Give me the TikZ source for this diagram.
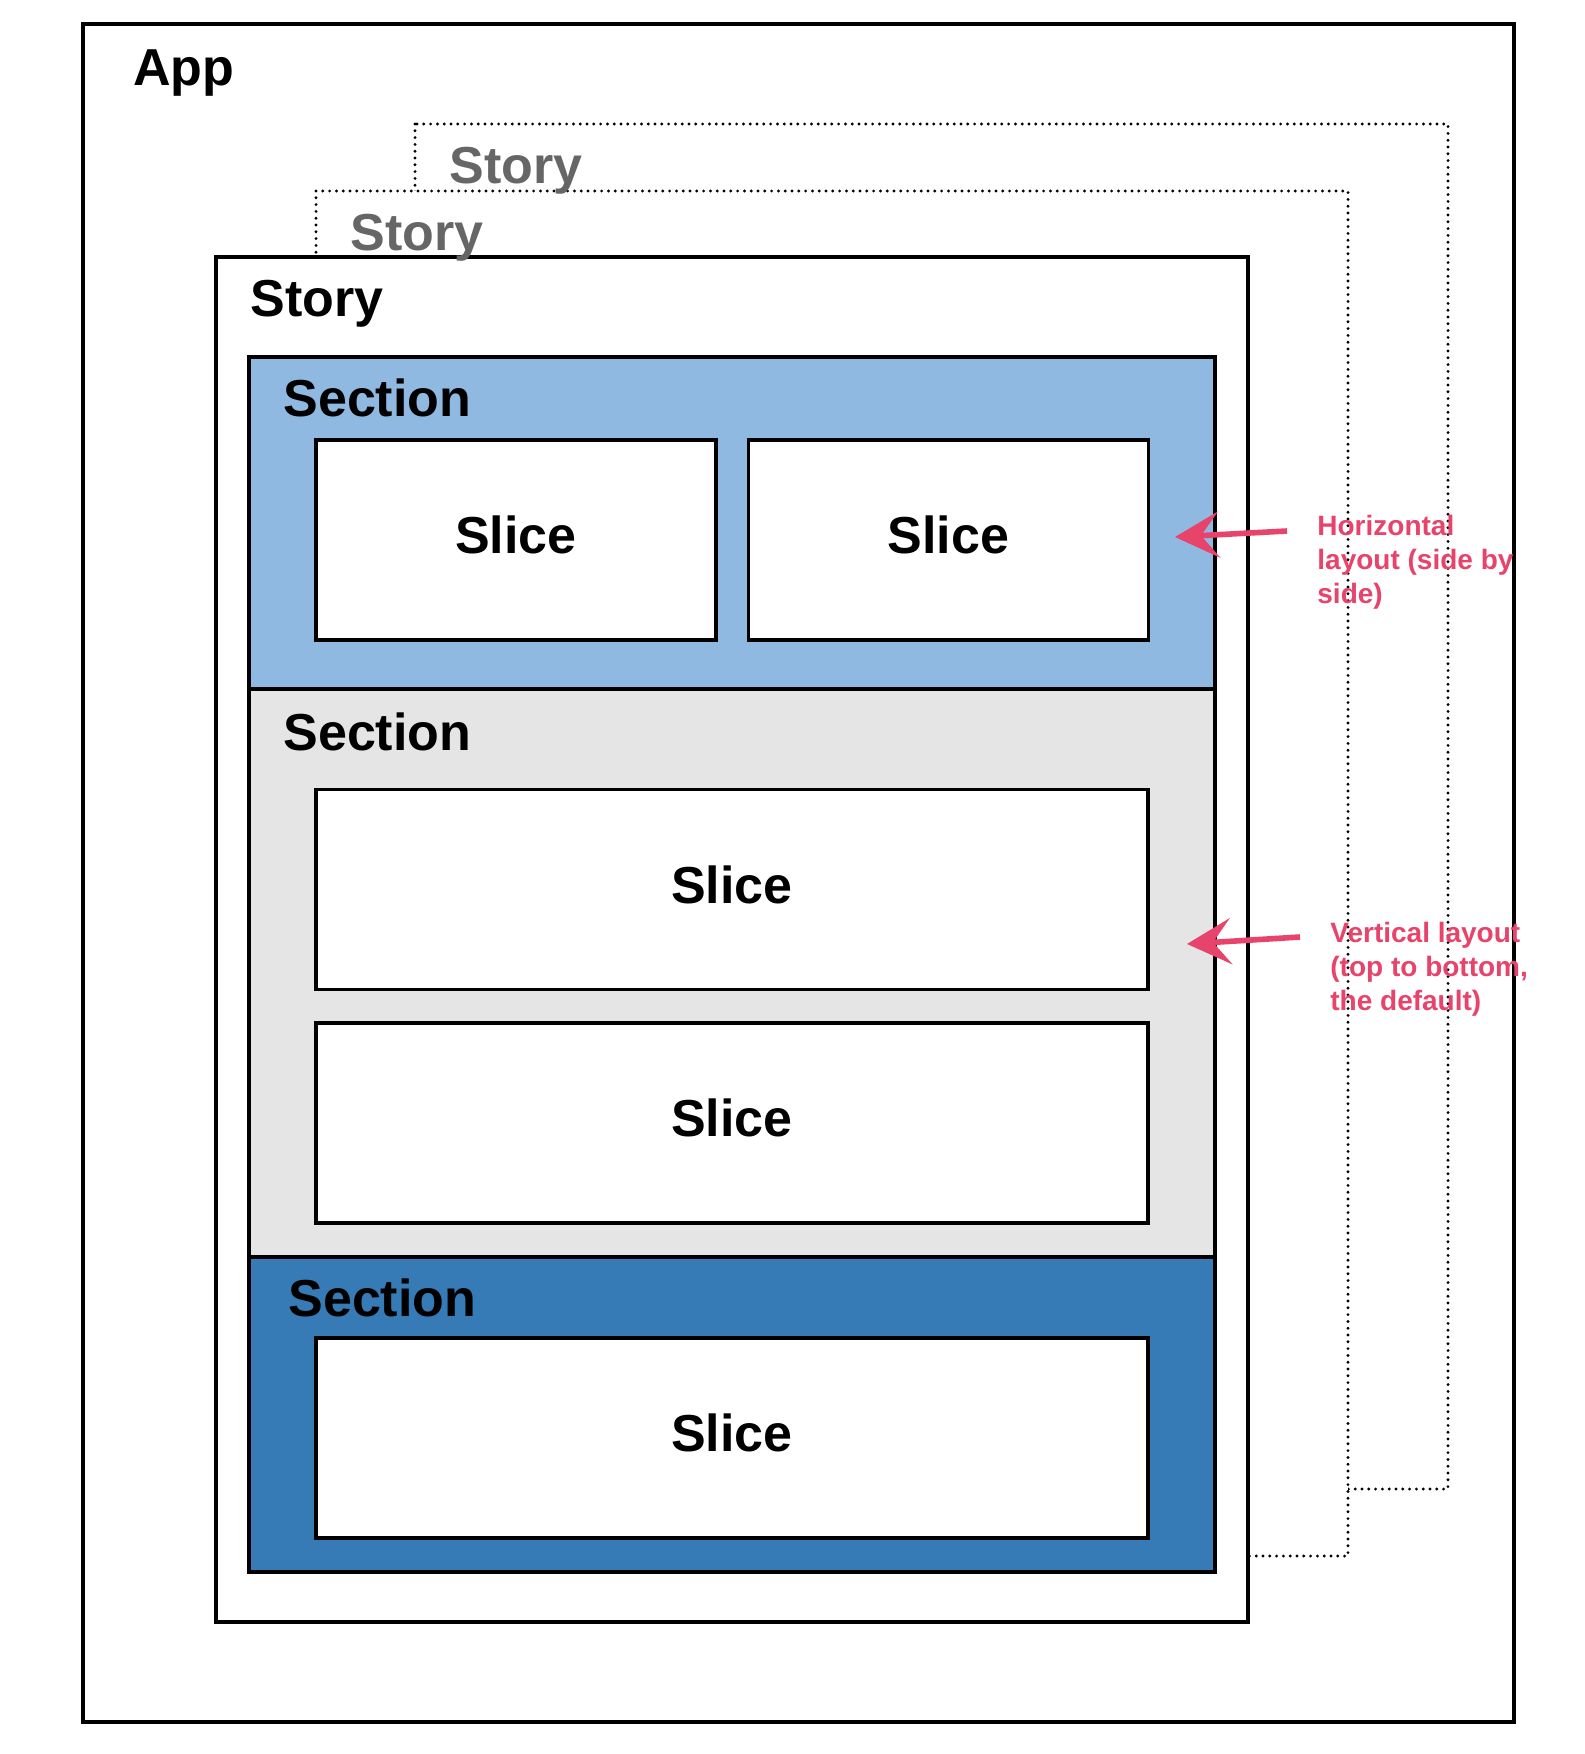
\documentclass[tikz,border=0pt]{standalone}
\usepackage{fontspec}
\setmainfont{Liberation Sans}
\usetikzlibrary{arrows.meta}

\definecolor{lightsec}{HTML}{8FB9E0}
\definecolor{greysec}{HTML}{E5E5E5}
\definecolor{darksec}{HTML}{367AB6}
\definecolor{ghostgrey}{HTML}{666666}
\definecolor{notepink}{HTML}{E8436B}

\begin{document}
\begin{tikzpicture}[x=0.5pt, y=-0.5pt,
		frame/.style={draw, line width=1.7pt},
		ghost/.style={draw, line width=1.6pt, line cap=round, dash pattern=on 0pt off 3.4pt},
		title/.style={anchor=base west, inner sep=0pt, font=\fontsize{26}{31}\selectfont\bfseries},
		slicebox/.style={draw, fill=white, line width=1.7pt, inner sep=0pt, text depth=5pt, minimum width=#1, minimum height=100pt, font=\fontsize{26}{31}\selectfont\bfseries},
		slicebox/.default=416pt,
		note/.style={anchor=base west, inner sep=0pt, align=left, text=notepink, font=\fontsize{14}{17}\selectfont\bfseries},
		pointer/.style={-{Stealth[length=22pt, width=23pt, inset=9pt]}, line width=2.8pt, draw=notepink}]
		\useasboundingbox (0,0) rectangle (1584,1754);
		
		% App
		\draw[frame, fill=white] (83,24) rectangle (1514,1722);
		
		% Stories behind (dotted)
		\draw[ghost, fill=white] (415,124) rectangle (1448,1489);
		\draw[ghost, fill=white] (316,191) rectangle (1348,1556);
		% Front story
		\draw[frame, fill=white] (216,257) rectangle (1248,1622);
		
		% --- Sections ---
		\draw[frame, fill=lightsec] (249,357) rectangle (1215,689);
		\draw[frame, fill=greysec] (249,689) rectangle (1215,1257);
		\draw[frame, fill=darksec] (249,1257) rectangle (1215,1572);
		
		% --- Slices ---
		\node[slicebox=200pt] (slice1) at (516,540) {Slice};
		\node[slicebox=200pt] (slice2) at (948.5,540) {Slice};
		\node[slicebox] (slice3) at (732,889.5) {Slice};
		\node[slicebox] (slice4) at (732,1123) {Slice};
		\node[slicebox] (slice5) at (732,1438) {Slice};
		
		% Labels
		\node[title] (app) at (133,86) {App};
		\node[title, ghostgrey] (story3) at (449,184) {Story};
		\node[title, ghostgrey] (story2) at (350,251) {Story};
		\node[title] (story1) at (250,317) {Story};
		\node[title] (sec1) at (283,417) {Section};
		\node[title] (sec2) at (283,750) {Section};
		\node[title] (sec3) at (288,1316) {Section};
		
		% --- Notes ---
		\node[note] (horiz) at (1317,603) {Horizontal\\layout (side by\\side)};
		\node[note] (vert) at (1330,1010) {Vertical layout\\(top to bottom,\\the default)};
		\coordinate (horizTail) at (1287,531);
		\coordinate (horizTip) at (1175,537);
		\coordinate (vertTail) at (1300,937);
		\coordinate (vertTip) at (1187,944);
		\draw[pointer] (horizTail) -- (horizTip);
		\draw[pointer] (vertTail) -- (vertTip);
		
	\end{tikzpicture}
\end{document}
